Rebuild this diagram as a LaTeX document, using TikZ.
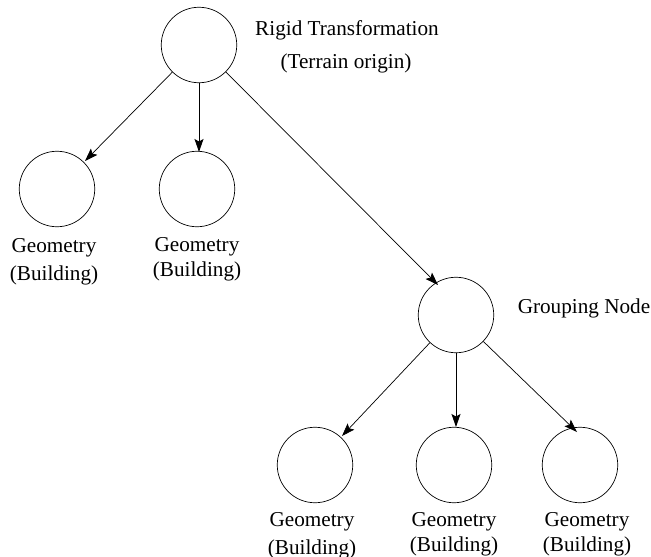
\documentclass[tikz,border=0pt]{standalone}
\usepackage{fontspec}
\setmainfont{Liberation Serif}
\usetikzlibrary{arrows.meta}
\begin{document}
\begin{tikzpicture}[x=1pt,y=-1pt,
 circ/.style={draw,circle,minimum size=75.5pt,inner sep=0pt,line width=0.7pt},
 lab/.style={font=\fontsize{21.2}{28}\selectfont,align=center,inner sep=0pt},
 labtight/.style={font=\fontsize{21.2}{24.5}\selectfont,align=center,inner sep=0pt},
 arr/.style={line width=0.7pt,-{Stealth[length=13pt,width=9pt,inset=2.5pt]}}]
\useasboundingbox (0,0) rectangle (651,557);
\node[circ] (r) at (199,45) {};
\node[circ] (g1) at (57,189) {};
\node[circ] (g2) at (197,189) {};
\node[circ] (n) at (456,315) {};
\node[circ] (b1) at (315,465) {};
\node[circ] (b2) at (454,465) {};
\node[circ] (b3) at (580,465) {};
\coordinate (e1) at (85,161);
\coordinate (e2) at (199,152);
\coordinate (e3) at (438,285);
\coordinate (e4) at (342,436);
\coordinate (e5) at (456,427);
\coordinate (e6) at (577,432);
\draw[arr] (r) -- (e1);
\draw[arr] (r.south) -- (e2);
\draw[arr] (r) -- (e3);
\draw[arr] (n) -- (e4);
\draw[arr] (n.south) -- (e5);
\draw[arr] (n) -- (e6);
\node[lab] (t1) at (347,30) {Rigid Transformation};
\node[lab] (t2) at (346,63) {(Terrain origin)};
\node[lab] (t3) at (584,308) {Grouping Node};
\node[lab] (l1) at (54,261.5) {Geometry\\(Building)};
\node[labtight] (l2) at (197,259.5) {Geometry\\(Building)};
\node[lab] (l3) at (312,536) {Geometry\\(Building)};
\node[labtight] (l4) at (454,534.5) {Geometry\\(Building)};
\node[labtight] (l5) at (587,534.5) {Geometry\\(Building)};
\end{tikzpicture}
\end{document}
